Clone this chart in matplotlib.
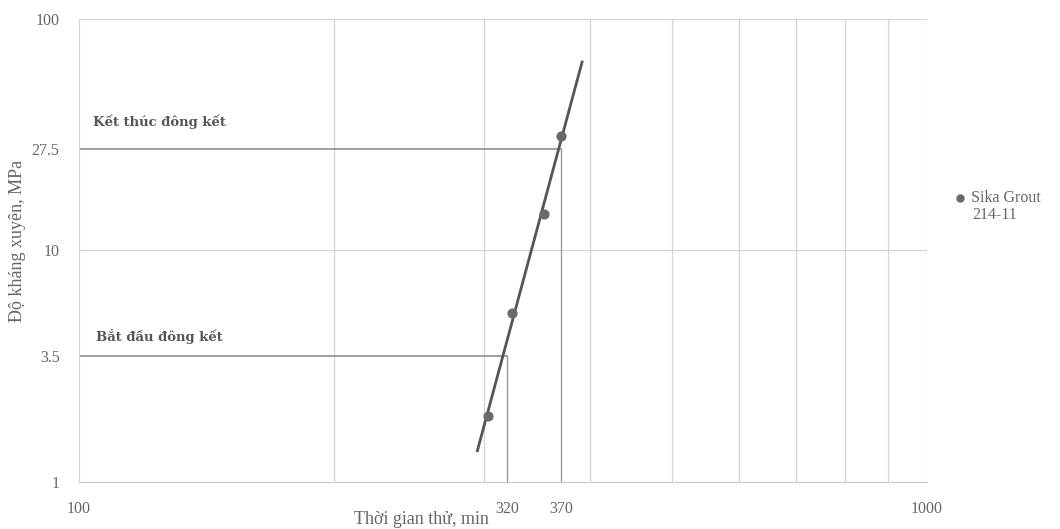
import numpy as np
import matplotlib.pyplot as plt
from matplotlib.ticker import FixedLocator, NullFormatter, NullLocator

# Data
time_min = [303.5, 324, 353.5, 370]        # test time, min
resistance = [1.93, 5.37, 14.4, 31.2]     # penetration resistance, MPa
fit_range = [295, 392]                    # extent of the trend line
series_name = ["Sika Grout", "214-11"]

set_levels = [3.5, 27.5]                  # initial / final set, MPa
set_times = [320, 370]                    # min
set_labels = ["Bắt đầu đông kết", "Kết thúc đông kết"]

x_ticks = [100, 320, 370, 1000]
y_ticks = [1, 3.5, 10, 27.5, 100]
y_tick_labels = ["1", "3.5", "10", "27.5", "100"]
x_grid = [200, 300, 400, 500, 600, 700, 800, 900, 1000]
y_grid = [10, 100]

plt.rcParams['font.family'] = ['Liberation Serif', 'DejaVu Serif']
text_col = "#666666"

fig = plt.figure(figsize=(10.6, 5.29), dpi=100)
ax = fig.add_axes([0.0745, 0.089, 0.80, 0.875])
ax.set_xscale("log")
ax.set_yscale("log")
ax.set_xlim(100, 1000)
ax.set_ylim(1, 100)

# light grid
for gx in x_grid:
    ax.axvline(gx, color="#d4d4d8", lw=0.9, zorder=0)
for gy in y_grid:
    ax.axhline(gy, color="#d4d4d8", lw=0.9, zorder=0)

# set-time guide lines
for lev, t in zip(set_levels, set_times):
    ax.plot([100, t], [lev, lev], color="#858585", lw=1.1, zorder=1)
    ax.plot([t, t], [1, lev], color="#9a9a9a", lw=1.0, zorder=1)

# power-law trend line fitted in log space
k, b = np.polyfit(np.log10(time_min), np.log10(resistance), 1)
xf = np.array(fit_range, dtype=float)
ax.plot(xf, 10 ** (k * np.log10(xf) + b), color="#555555", lw=2.0, zorder=2)

ax.scatter(time_min, resistance, s=40, color="#6a6a6a", zorder=3,
           label=series_name[0])

# set labels (bold, wide serif)
ax.text(104.7, 4.27, set_labels[0], fontsize=9.5, fontweight="bold",
        family="DejaVu Serif", color="#555555", ha="left", va="center")
ax.text(103.9, 35.9, set_labels[1], fontsize=9.5, fontweight="bold",
        family="DejaVu Serif", color="#555555", ha="left", va="center")

# ticks
ax.xaxis.set_major_locator(FixedLocator(x_ticks))
ax.xaxis.set_minor_locator(NullLocator())
ax.xaxis.set_minor_formatter(NullFormatter())
ax.set_xticklabels([str(v) for v in x_ticks])
ax.yaxis.set_major_locator(FixedLocator(y_ticks))
ax.yaxis.set_minor_locator(NullLocator())
ax.yaxis.set_minor_formatter(NullFormatter())
ax.set_yticklabels(y_tick_labels)
ax.tick_params(length=0, labelsize=11.5, colors=text_col)
ax.tick_params(axis="x", pad=14)
ax.tick_params(axis="y", pad=14)

for side in ["top", "right"]:
    ax.spines[side].set_visible(False)
ax.spines["left"].set_color("#d4d4d8")
ax.spines["bottom"].set_color("#c8c8cc")

ax.set_xlabel("Thời gian thử, min", fontsize=13, color=text_col)
ax.xaxis.set_label_coords(0.404, -0.062)
ax.set_ylabel("Độ kháng xuyên, MPa", fontsize=13, color=text_col)
ax.yaxis.set_label_coords(-0.063, 0.52)

leg = ax.legend(loc="upper left", bbox_to_anchor=(1.0215, 0.6435), frameon=False,
                fontsize=11.5, handletextpad=0.2, handlelength=1.0,
                markerscale=0.8, borderaxespad=0)
for t in leg.get_texts():
    t.set_color(text_col)
ax.text(1.053, 0.577, series_name[1], transform=ax.transAxes,
        fontsize=11.5, color=text_col, ha="left", va="center")

fig.savefig("out.png", dpi=100, facecolor="white")
